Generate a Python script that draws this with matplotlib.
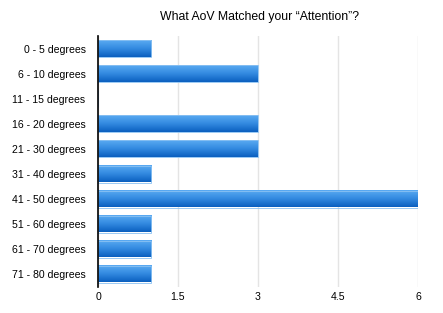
import matplotlib
matplotlib.use("Agg")
import matplotlib.pyplot as plt
import numpy as np
from matplotlib.colors import LinearSegmentedColormap

plt.rcParams['font.family'] = ['Liberation Sans', 'DejaVu Sans']

categories = ["0 - 5 degrees", "6 - 10 degrees", "11 - 15 degrees", "16 - 20 degrees",
              "21 - 30 degrees", "31 - 40 degrees", "41 - 50 degrees", "51 - 60 degrees",
              "61 - 70 degrees", "71 - 80 degrees"]
values = [1, 3, 0, 3, 3, 1, 6, 1, 1, 1]
xticks = [0, 1.5, 3, 4.5, 6]
xtick_labels = ["0", "1.5", "3", "4.5", "6"]

fig = plt.figure(figsize=(4.43, 3.13), dpi=100)
ax = fig.add_axes([98/443, 1-286.5/313, 320/443, 250/313])

cmap = LinearSegmentedColormap.from_list("g", ["#5aaaf2", "#338ae0", "#0b5fbf"])
grad = np.linspace(0, 1, 64).reshape(-1, 1)
h = 0.68
y = np.arange(len(categories))
bars = ax.barh(y, values, height=h, color="none", edgecolor="#8cc2f2", linewidth=0.6, zorder=3)
for b in bars:
    x0, y0, w, hh = b.get_x(), b.get_y(), b.get_width(), b.get_height()
    if w <= 0:
        continue
    ax.imshow(grad, cmap=cmap, aspect="auto", extent=(x0, x0 + w, y0 + hh, y0),
              origin="upper", zorder=2, interpolation="bilinear")

ax.set_ylim(len(categories) - 0.5, -0.5)
ax.set_xlim(0, 6)
ax.set_yticks(y)
ax.set_yticklabels(categories, fontsize=7.6)
ax.set_xticks(xticks)
ax.set_xticklabels(xtick_labels, fontsize=7.6)
ax.tick_params(axis="x", length=0, pad=4)
ax.tick_params(axis="y", length=0, pad=9)
for s in ["top", "right", "bottom"]:
    ax.spines[s].set_visible(False)
ax.spines["left"].set_color("black")
ax.spines["left"].set_linewidth(1.2)
ax.spines["left"].set_zorder(4)
ax.grid(axis="x", color="#e4e4e4", linewidth=1, zorder=0)
ax.set_axisbelow(True)
fig.text(0.585, 1 - 17/313, "What AoV Matched your \u201cAttention\u201d?", ha="center", va="center", fontsize=8.8)
fig.savefig("out.png", dpi=100)
